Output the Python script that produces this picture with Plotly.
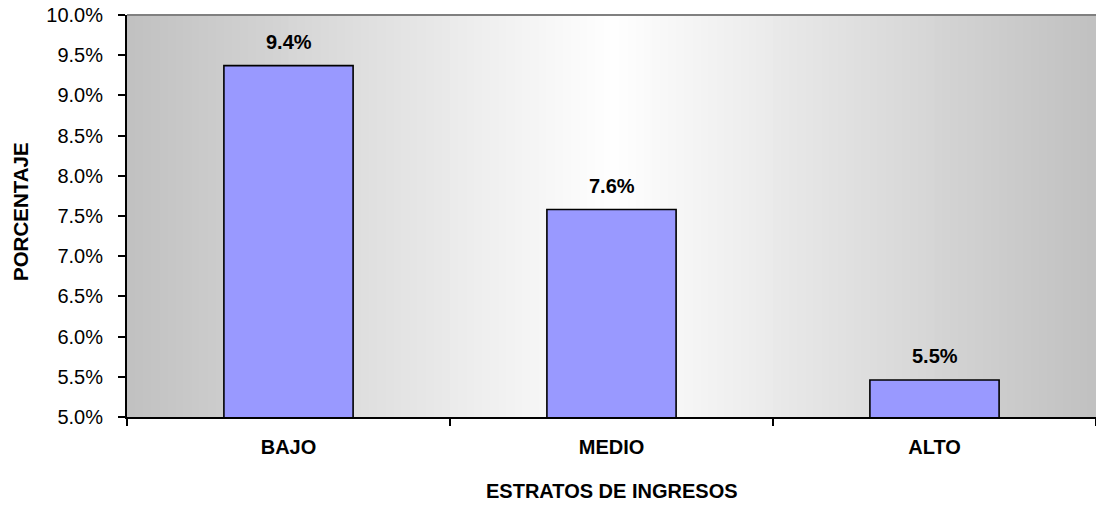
import plotly.graph_objects as go

categories = ["BAJO", "MEDIO", "ALTO"]
values = [9.37, 7.58, 5.46]
labels = ["9.4%", "7.6%", "5.5%"]
y_ticks = [5.0, 5.5, 6.0, 6.5, 7.0, 7.5, 8.0, 8.5, 9.0, 9.5, 10.0]
y_tick_text = ["5.0%", "5.5%", "6.0%", "6.5%", "7.0%", "7.5%", "8.0%", "8.5%", "9.0%", "9.5%", "10.0%"]

FONT = "Liberation Sans, Arial, sans-serif"

fig = go.Figure()
fig.add_trace(go.Bar(
    x=categories, y=values, width=0.4,
    marker=dict(color="#9999FF", line=dict(color="#000000", width=1.6)),
    hoverinfo="skip",
))

# horizontal gradient background (gray - white - gray)
shapes = []
n = 120
for i in range(n):
    t = (i + 0.5) / n
    d = abs(t - 0.5) * 2
    c = int(round(255 - 63 * d))
    shapes.append(dict(type="rect", xref="paper", yref="paper",
                       x0=i / n, x1=(i + 1) / n + 0.002, y0=0, y1=1,
                       fillcolor=f"rgb({c},{c},{c})", line=dict(width=0),
                       layer="below"))
shapes.append(dict(type="line", xref="paper", yref="paper", x0=0, x1=1, y0=1, y1=1,
                   line=dict(color="#808080", width=2)))

annotations = []
for cat, v, lab in zip(categories, values, labels):
    annotations.append(dict(x=cat, y=v, text=f"<b>{lab}</b>", showarrow=False,
                            yanchor="bottom", yshift=11,
                            font=dict(family=FONT, size=20, color="#000000")))
annotations.append(dict(x=0, y=0.5, xref="paper", yref="paper", xanchor="center",
                        yanchor="middle", xshift=-107, yshift=4, textangle=-90,
                        text="<b>PORCENTAJE</b>", showarrow=False,
                        font=dict(family=FONT, size=20.5, color="#000000")))
annotations.append(dict(x=0.5, y=0, xref="paper", yref="paper", xanchor="center",
                        yanchor="middle", yshift=-74,
                        text="<b>ESTRATOS DE INGRESOS</b>", showarrow=False,
                        font=dict(family=FONT, size=20, color="#000000")))

fig.update_layout(
    width=1096, height=505,
    margin=dict(l=127, r=0, t=15, b=88),
    paper_bgcolor="#FFFFFF", plot_bgcolor="#C0C0C0",
    showlegend=False, shapes=shapes, annotations=annotations,
    bargap=0.6,
)
fig.update_xaxes(
    type="category", showgrid=False, showline=True, linecolor="#000000", linewidth=2,
    ticks="outside", tickson="boundaries", ticklen=7, tickwidth=1.5, tickcolor="#000000",
    tickfont=dict(family=FONT, size=20, color="#000000", weight="bold"),
    ticklabelstandoff=11,
)
fig.update_yaxes(
    range=[5, 10], tickvals=y_ticks, ticktext=y_tick_text, showgrid=False,
    showline=True, linecolor="#000000", linewidth=2, zeroline=False,
    ticks="outside", ticklen=7, tickwidth=1.5, tickcolor="#000000",
    tickfont=dict(family=FONT, size=20, color="#000000"),
    ticklabelstandoff=11,
)

fig.write_html("out.html", config={"displayModeBar": False},
               post_script="document.body.style.margin='0';document.body.style.overflow='hidden';")
